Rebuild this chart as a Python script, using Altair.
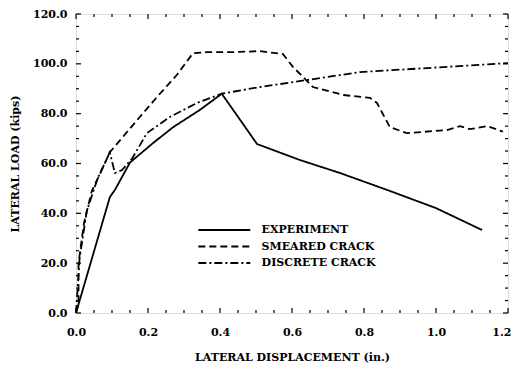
import altair as alt
import pandas as pd

series = ["EXPERIMENT", "SMEARED CRACK", "DISCRETE CRACK"]

exp_x = [0.0, 0.094, 0.108, 0.15, 0.214, 0.27, 0.344, 0.405, 0.503, 0.622, 0.733, 0.864, 1.0, 1.128]
exp_y = [0.0, 46.5, 49.4, 60.4, 68.2, 74.6, 81.5, 88.0, 67.8, 61.4, 56.2, 49.4, 42.1, 33.3]

sm_x = [0.0, 0.007, 0.007, 0.022, 0.044, 0.064, 0.094, 0.158, 0.225, 0.28, 0.325, 0.364,
        0.436, 0.511, 0.575, 0.603, 0.631, 0.658, 0.742, 0.817, 0.836, 0.872, 0.919,
        1.03, 1.067, 1.094, 1.142, 1.186]
sm_y = [0.0, 4.0, 20.0, 36.0, 49.0, 55.0, 64.5, 75.4, 86.7, 95.5, 104.3, 104.7,
        104.7, 105.1, 103.9, 98.7, 94.7, 90.7, 87.5, 86.3, 84.3, 74.6, 72.2,
        73.4, 75.0, 73.8, 75.0, 72.8]

dd_x = [0.0, 0.01, 0.03, 0.06, 0.094, 0.108, 0.128, 0.156, 0.197, 0.261, 0.336, 0.405,
        0.511, 0.642, 0.789, 0.975, 1.2]
dd_y = [0.0, 22.0, 41.0, 54.0, 64.5, 56.2, 57.4, 62.0, 72.2, 78.7, 84.3, 88.0,
        90.7, 93.5, 96.7, 98.3, 100.3]

x_major = [0.0, 0.2, 0.4, 0.6, 0.8, 1.0, 1.2]
x_minor = [0.05, 0.1, 0.15, 0.25, 0.3, 0.35, 0.45, 0.5, 0.55, 0.65, 0.7, 0.75,
           0.85, 0.9, 0.95, 1.05, 1.1, 1.15]
y_major = [0.0, 20.0, 40.0, 60.0, 80.0, 100.0, 120.0]
y_minor = [5, 10, 15, 25, 30, 35, 45, 50, 55, 65, 70, 75, 85, 90, 95, 105, 110, 115]

rows = []
for name, xs_, ys_ in zip(series, [exp_x, sm_x, dd_x], [exp_y, sm_y, dd_y]):
    for i, (xv, yv) in enumerate(zip(xs_, ys_)):
        rows.append({"series": name, "x": xv, "y": yv, "i": i})
df = pd.DataFrame(rows)

W, H = 432, 299
FONT = "DejaVu Serif"
xs = alt.Scale(domain=[0, 1.2], nice=False, zero=False)
ys = alt.Scale(domain=[0, 120], nice=False, zero=False)

common_axis = dict(domain=False, grid=False, ticks=False, labelFlush=False,
                   labelFont=FONT, labelFontSize=11, labelFontWeight="bold",
                   labelColor="black", titleFont=FONT, titleFontSize=11,
                   titleFontWeight="bold", titleColor="black")

x_axis = alt.Axis(
    orient="bottom", values=x_major, format=".1f",
    labelPadding=13, title="LATERAL DISPLACEMENT (in.)", titleY=44,
    titleBaseline="middle",
    labelAlign=alt.condition("datum.value >= 1.2", alt.value("right"), alt.value("center")),
    labelOffset=alt.condition("datum.value >= 1.2", alt.value(3), alt.value(0)),
    **common_axis)
y_axis = alt.Axis(
    orient="left", values=y_major, format=".1f",
    labelPadding=9, title="LATERAL LOAD (kips)", titleX=-61, titleY=149.5,
    titleAngle=-90, titleAlign="center", titleBaseline="middle", **common_axis)

lines = alt.Chart(df).mark_line(color="black", strokeWidth=1.8).encode(
    x=alt.X("x:Q", scale=xs, axis=x_axis),
    y=alt.Y("y:Q", scale=ys, axis=y_axis),
    strokeDash=alt.StrokeDash("series:N", scale=alt.Scale(
        domain=series, range=[[1, 0], [7, 4], [8, 3, 2, 3]]),
        legend=alt.Legend(title=None, orient="none", legendX=162.6, legendY=209.5,
                          padding=0, symbolType="M-9,0H1", symbolSize=108,
                          symbolStrokeColor="black", symbolStrokeWidth=1.8,
                          symbolFillColor="transparent", rowPadding=4.5,
                          labelOffset=10, labelFont=FONT, labelFontSize=11,
                          labelFontWeight="bold", labelColor="black")),
    order="i:Q",
)


def xticks(vals, length, top):
    d = pd.DataFrame({"x": vals})
    if top:
        yy, yy2 = alt.value(0), alt.value(length)
    else:
        yy, yy2 = alt.value(H), alt.value(H - length)
    return alt.Chart(d).mark_rule(color="black", strokeWidth=1.2).encode(
        x=alt.X("x:Q", scale=xs), y=yy, y2=yy2)


def yticks(vals, length, right):
    d = pd.DataFrame({"y": vals})
    if right:
        xx, xx2 = alt.value(W), alt.value(W - length)
    else:
        xx, xx2 = alt.value(0), alt.value(length)
    return alt.Chart(d).mark_rule(color="black", strokeWidth=1.2).encode(
        y=alt.Y("y:Q", scale=ys), x=xx, x2=xx2)


ticks = [
    xticks(x_major, 5, False), xticks(x_minor, 3, False),
    xticks(x_major, 5, True), xticks(x_minor, 3, True),
    yticks(y_major, 5, False), yticks(y_minor, 3, False),
    yticks(y_major, 5, True), yticks(y_minor, 3, True),
]

chart = alt.layer(lines, *ticks).properties(
    width=W, height=H,
    autosize=alt.AutoSizeParams(type="none"),
    padding={"left": 68, "top": 6, "right": 3, "bottom": 50},
).configure_view(stroke="black", strokeWidth=1.5).configure(background="white")

chart.save("out.html", embed_options={"renderer": "svg", "actions": False})
